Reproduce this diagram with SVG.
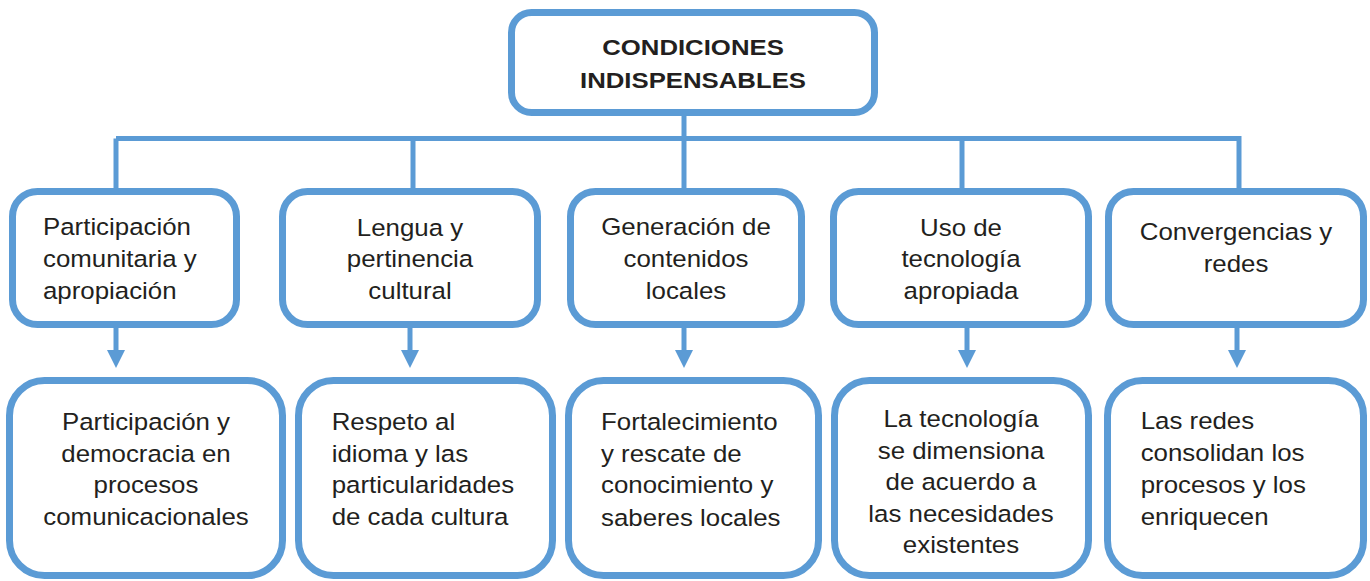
<svg xmlns="http://www.w3.org/2000/svg" width="1370" height="581" viewBox="0 0 1370 581">
<style>
.box{fill:#fff;stroke:#5b9bd5;stroke-width:7}
.con{stroke:#5b9bd5;stroke-width:5;fill:none}
.t{font-family:"Liberation Sans",Arial,sans-serif;font-size:23.5px;fill:#231f20}
.c{text-anchor:middle}
.b{font-weight:bold;font-size:23px}
</style>
<defs>
<marker id="ah" markerUnits="userSpaceOnUse" markerWidth="18" markerHeight="18" refX="5" refY="9" orient="auto" viewBox="0 0 18 18">
<path d="M0,0 L18,9 L0,18 Z" fill="#5b9bd5"/>
</marker>
</defs>
<rect width="1370" height="581" fill="#fff"/>
<g id="connectors">
<line class="con" x1="684" y1="112" x2="684" y2="138.5"/>
<line class="con" x1="116" y1="138.5" x2="1239" y2="138.5"/>
<polyline class="con" points="116,138.5 116,192"/>
<line class="con" x1="413" y1="138.5" x2="413" y2="192"/>
<line class="con" x1="684" y1="138.5" x2="684" y2="192"/>
<line class="con" x1="962" y1="138.5" x2="962" y2="192"/>
<line class="con" x1="1239" y1="136" x2="1239" y2="192"/>
<line class="con" x1="116" y1="328" x2="116" y2="355" marker-end="url(#ah)"/>
<line class="con" x1="410" y1="328" x2="410" y2="355" marker-end="url(#ah)"/>
<line class="con" x1="684" y1="328" x2="684" y2="355" marker-end="url(#ah)"/>
<line class="con" x1="967" y1="328" x2="967" y2="355" marker-end="url(#ah)"/>
<line class="con" x1="1237" y1="328" x2="1237" y2="355" marker-end="url(#ah)"/>
</g>
<g id="root">
<rect class="box" x="511.5" y="12.5" width="363" height="100" rx="20"/>
<text class="t c b" transform="translate(693,55) scale(1.12,1)">CONDICIONES</text>
<text class="t c b" transform="translate(693,88) scale(1.12,1)">INDISPENSABLES</text>
</g>
<g id="n1">
<rect class="box" x="12.5" y="191.5" width="224" height="133" rx="25"/>
<text class="t" transform="translate(43,235) scale(1.1,1)">Participación</text>
<text class="t" transform="translate(43,267) scale(1.1,1)">comunitaria y</text>
<text class="t" transform="translate(43,299) scale(1.1,1)">apropiación</text>
</g>
<g id="n2">
<rect class="box" x="282.5" y="191.5" width="255" height="133" rx="25"/>
<text class="t c" transform="translate(410,235.5) scale(1.1,1)">Lengua y</text>
<text class="t c" transform="translate(410,267) scale(1.1,1)">pertinencia</text>
<text class="t c" transform="translate(410,299) scale(1.1,1)">cultural</text>
</g>
<g id="n3">
<rect class="box" x="570.5" y="191.5" width="231" height="133" rx="25"/>
<text class="t c" transform="translate(686,235) scale(1.1,1)">Generación de</text>
<text class="t c" transform="translate(686,267) scale(1.1,1)">contenidos</text>
<text class="t c" transform="translate(686,299) scale(1.1,1)">locales</text>
</g>
<g id="n4">
<rect class="box" x="833.5" y="191.5" width="255" height="133" rx="25"/>
<text class="t c" transform="translate(961,235.5) scale(1.1,1)">Uso de</text>
<text class="t c" transform="translate(961,267) scale(1.1,1)">tecnología</text>
<text class="t c" transform="translate(961,299) scale(1.1,1)">apropiada</text>
</g>
<g id="n5">
<rect class="box" x="1108.5" y="191.5" width="255" height="133" rx="25"/>
<text class="t c" transform="translate(1236,240) scale(1.1,1)">Convergencias y</text>
<text class="t c" transform="translate(1236,271.5) scale(1.1,1)">redes</text>
</g>
<g id="d1">
<rect class="box" x="9.5" y="380.5" width="273" height="195" rx="35"/>
<text class="t c" transform="translate(146,430) scale(1.1,1)">Participación y</text>
<text class="t c" transform="translate(146,461.7) scale(1.1,1)">democracia en</text>
<text class="t c" transform="translate(146,493.3) scale(1.1,1)">procesos</text>
<text class="t c" transform="translate(146,525) scale(1.1,1)">comunicacionales</text>
</g>
<g id="d2">
<rect class="box" x="298.5" y="380.5" width="254" height="195" rx="35"/>
<text class="t" transform="translate(331.7,430) scale(1.1,1)">Respeto al</text>
<text class="t" transform="translate(331.7,461.7) scale(1.1,1)">idioma y las</text>
<text class="t" transform="translate(331.7,493.3) scale(1.1,1)">particularidades</text>
<text class="t" transform="translate(331.7,525) scale(1.1,1)">de cada cultura</text>
</g>
<g id="d3">
<rect class="box" x="568.5" y="380.5" width="250" height="195" rx="35"/>
<text class="t" transform="translate(601,429.5) scale(1.1,1)">Fortalecimiento</text>
<text class="t" transform="translate(601,461.7) scale(1.1,1)">y rescate de</text>
<text class="t" transform="translate(601,493.3) scale(1.1,1)">conocimiento y</text>
<text class="t" transform="translate(601,525.5) scale(1.1,1)">saberes locales</text>
</g>
<g id="d4">
<rect class="box" x="834.5" y="380.5" width="254" height="195" rx="35"/>
<text class="t c" transform="translate(961,427.3) scale(1.1,1)">La tecnología</text>
<text class="t c" transform="translate(961,458.5) scale(1.1,1)">se dimensiona</text>
<text class="t c" transform="translate(961,490) scale(1.1,1)">de acuerdo a</text>
<text class="t c" transform="translate(961,521.7) scale(1.1,1)">las necesidades</text>
<text class="t c" transform="translate(961,553.3) scale(1.1,1)">existentes</text>
</g>
<g id="d5">
<rect class="box" x="1107.5" y="380.5" width="256" height="195" rx="35"/>
<text class="t" transform="translate(1140.7,429.3) scale(1.1,1)">Las redes</text>
<text class="t" transform="translate(1140.7,461) scale(1.1,1)">consolidan los</text>
<text class="t" transform="translate(1140.7,493) scale(1.1,1)">procesos y los</text>
<text class="t" transform="translate(1140.7,524.7) scale(1.1,1)">enriquecen</text>
</g>
</svg>
